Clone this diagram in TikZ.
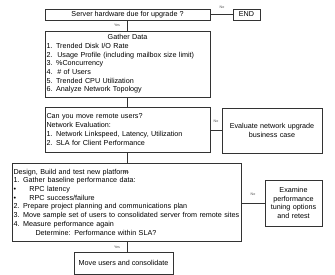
\documentclass[tikz,border=0pt]{standalone}
\usepackage{fontspec}
\setmainfont{Liberation Sans}
\usetikzlibrary{positioning}

\tikzset{
  box/.style={draw=black!80,line width=0.6pt,rectangle,inner xsep=1.5pt,inner ysep=1pt,
    font=\fontsize{7.2}{8.7}\selectfont},
  tag/.style={font=\fontsize{3.6}{4}\selectfont,text=black!70,inner sep=0pt},
  link/.style={draw=black!80,line width=0.6pt}
}

\begin{document}
\begin{tikzpicture}[x=1pt,y=-1pt]
			\useasboundingbox (0,0) rectangle (335,275);
			\node[box,minimum width=165pt,minimum height=11pt] (hw) at (127.5,14.5) {Server hardware due for upgrade ?};
			\node[box,minimum width=27pt,minimum height=11pt] (stop) at (246.5,14.5) {END};
			\node[box,text width=162pt,minimum height=66pt,align=left] (gather) at (127.5,64) {\makebox[\linewidth]{Gather Data}\\
				1. Trended Disk I/O Rate\\
				2.\ \ Usage Profile (including mailbox size limit)\\
				3. \%Concurrency\\
				4.\ \ \# of Users\\
				5. Trended CPU Utilization\\
				6. Analyze Network Topology};
			\node[box,text width=162pt,minimum height=45pt,align=left] (remote) at (127.5,129.5) {Can you move remote users?\\
				Network Evaluation:\\
				1. Network Linkspeed, Latency, Utilization\\
				2. SLA for Client Performance};
			\node[box,text width=97pt,minimum height=45pt,align=center] (evalnet) at (272,130.5) {Evaluate network upgrade\\business case};
			\node[box,text width=226pt,minimum height=78pt,align=left] (design) at (126.5,202) {Design, Build and test new platform\\
				1. Gather baseline performance data:\\
				\makebox[16pt][l]{\textbullet}RPC latency\\
				\makebox[16pt][l]{\textbullet}RPC success/failure\\
				2. Prepare project planning and communications plan\\
				3. Move sample set of users to consolidated server from remote sites\\
				4. Measure performance again\\
				\hspace*{22pt}Determine: Performance within SLA?};
			\node[box,text width=54pt,minimum height=46pt,align=center] (tune) at (293.5,203) {Examine\\performance\\tuning options\\and retest};
			\node[box,minimum width=99pt,minimum height=22pt] (move) at (123.5,263) {Move users and consolidate};
			% connectors
			\draw[link] (hw.east) -- (stop.west);
			\draw[link] (hw.south) -- (gather.north);
			\draw[link] (gather.south) -- (remote.north);
			\draw[link] (remote.east |- evalnet) -- (evalnet.west);
			\draw[link] (remote.south) -- (remote.south |- design.north);
			\draw[link] (design.east |- tune) -- (tune.west);
			\draw[link] (design.south -| remote.south) -- (remote.south |- move.north);
			% labels
			\node[tag] (no1) at (222,7) {No};
			\node[tag] (yes1) at (117,25) {Yes};
			\node[tag] (no2) at (216,121) {No};
			\node[tag] (yes2) at (126,172) {Yes};
			\node[tag] (no3) at (253,194) {No};
			\node[tag] (yes3) at (117,247) {Yes};
		\end{tikzpicture}
\end{document}
